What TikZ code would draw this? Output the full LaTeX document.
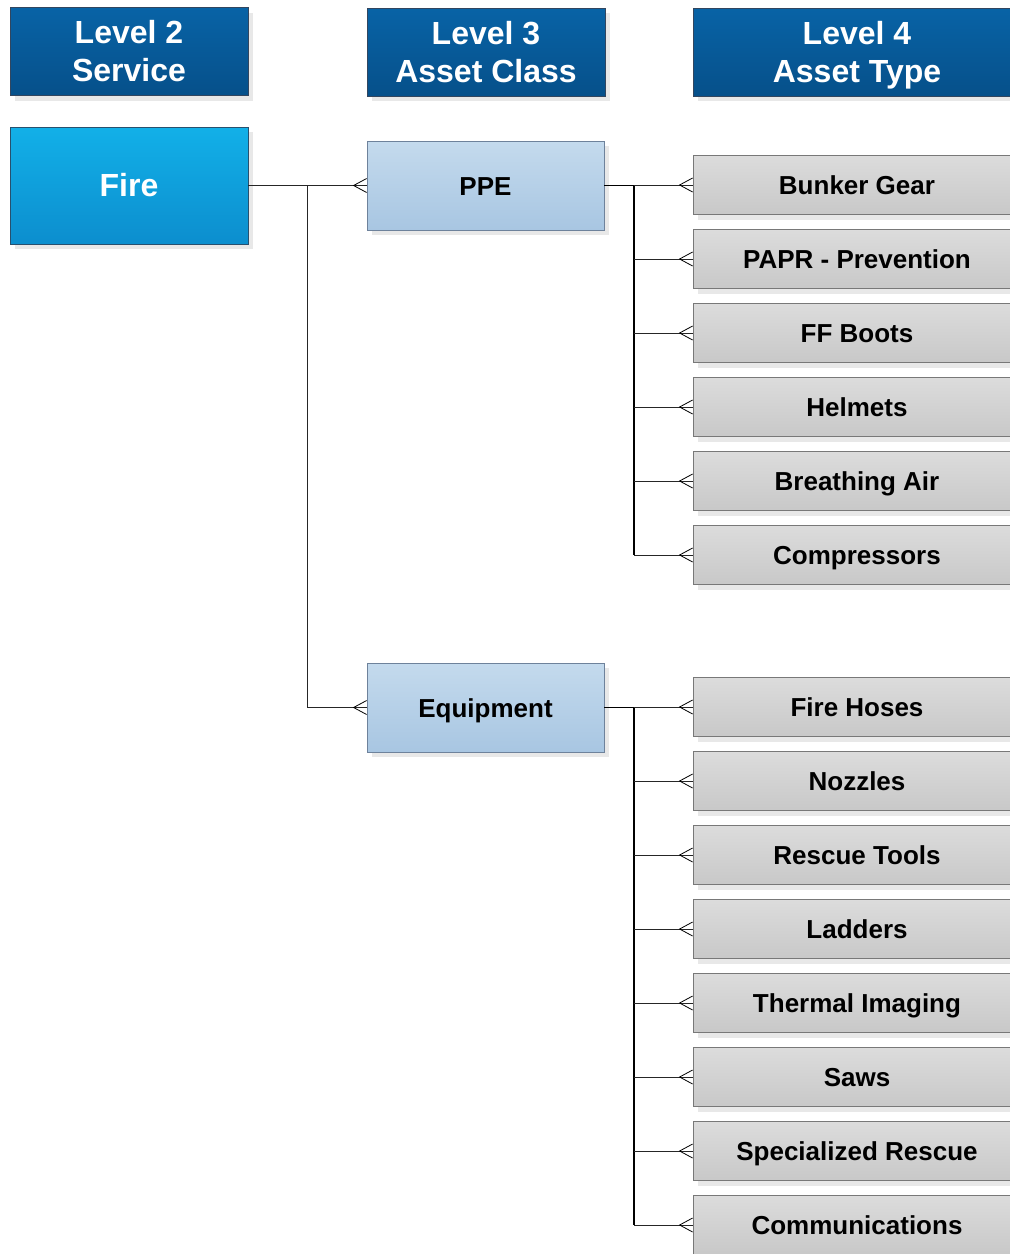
\documentclass[tikz,border=0pt]{standalone}
\usepackage{fontspec}
\setmainfont{Liberation Sans}
\usetikzlibrary{shadows}
\definecolor{hdrtop}{RGB}{8,99,166}
\definecolor{hdrbot}{RGB}{6,80,138}
\definecolor{hdrline}{RGB}{50,70,95}
\definecolor{firetop}{RGB}{18,176,232}
\definecolor{firebot}{RGB}{12,142,206}
\definecolor{fireline}{RGB}{40,80,110}
\definecolor{clstop}{RGB}{196,218,237}
\definecolor{clsbot}{RGB}{168,198,226}
\definecolor{clsline}{RGB}{110,130,155}
\definecolor{typtop}{RGB}{220,220,220}
\definecolor{typbot}{RGB}{200,200,200}
\definecolor{typline}{RGB}{120,120,120}
\definecolor{shadowgray}{RGB}{232,232,232}
\tikzset{
  shad/.style={drop shadow={shadow xshift=5pt,shadow yshift=-5pt,fill=shadowgray,opacity=1}},
  hdr/.style={shad,draw=hdrline,line width=0.8pt,top color=hdrtop,bottom color=hdrbot,
    text=white,font=\bfseries\fontsize{32}{38}\selectfont,align=center,
    minimum height=88pt,inner sep=0pt},
  firebox/.style={shad,draw=fireline,line width=0.8pt,top color=firetop,bottom color=firebot,
    text=white,font=\bfseries\fontsize{32}{38}\selectfont,minimum width=238pt,minimum height=117pt,inner sep=0pt},
  clsbox/.style={shad,draw=clsline,line width=0.8pt,top color=clstop,bottom color=clsbot,
    text=black,font=\bfseries\fontsize{26}{31}\selectfont,minimum width=237pt,minimum height=89pt,inner sep=0pt,
    text height=19pt,text depth=0pt},
  typbox/.style={shad,draw=typline,line width=0.8pt,top color=typtop,bottom color=typbot,
    text=black,font=\bfseries\fontsize{26}{31}\selectfont,minimum width=328pt,minimum height=59pt,inner sep=0pt,
    text height=19pt,text depth=0pt},
  conn/.style={line width=0.8pt,draw=black!85},
  trunk/.style={line width=1.3pt,draw=black},
}
\begin{document}
\begin{tikzpicture}[x=1pt,y=-1pt]
\useasboundingbox (0,0) rectangle (1010,1254);
\clip (0,0) rectangle (1010,1254);
\fill[white] (0,0) rectangle (1010,1254);
% headers
\node[hdr,minimum width=238pt] (h2) at (129,51.5) {Level 2\\Service};
\node[hdr,minimum width=238pt] (h3) at (486,52) {Level 3\\Asset Class};
\node[hdr,minimum width=328pt] (h4) at (857,52) {Level 4\\Asset \smash{Type}};
% level 2 and 3
\node[firebox] (fire) at (129,185.5) {Fire};
\node[clsbox] (ppe) at (485.5,185.5) {PPE};
\node[clsbox] (equip) at (485.5,707.5) {Equipment};
% level 4
\foreach \n/\y/\t in {p1/185/Bunker Gear,p2/259/PAPR - Prevention,p3/333/FF Boots,p4/407/Helmets,p5/481/Breathing Air,p6/555/Compressors,
  e1/707/Fire Hoses,e2/781/Nozzles,e3/855/Rescue Tools,e4/929/Ladders,e5/1003/Thermal Imaging,e6/1077/Saws,e7/1151/Specialized Rescue,e8/1225/Communications}
  \node[typbox] (\n) at (857,\y) {\t};
% trunk coordinates
\coordinate (t1) at (307,185.5);
\coordinate (t2) at (634,185.5);
\coordinate (t3) at (634,707.5);
% fire -> classes
\draw[conn] (fire.east) -- (ppe.west);
\draw[conn] (t1) |- (equip.west);
% classes -> types
\draw[trunk] (ppe.east) -- (t2) -- (t2 |- p6.west);
\draw[trunk] (equip.east) -- (t3) -- (t3 |- e8.west);
\foreach \n in {p1,p2,p3,p4,p5,p6}
  \draw[conn] (t2 |- \n.west) -- (\n.west);
\foreach \n in {e1,e2,e3,e4,e5,e6,e7,e8}
  \draw[conn] (t3 |- \n.west) -- (\n.west);
% crow's feet
\foreach \n in {ppe,equip,p1,p2,p3,p4,p5,p6,e1,e2,e3,e4,e5,e6,e7,e8}
  \draw[line width=0.8pt,black] ([yshift=7pt]\n.west) -- ([xshift=-13pt]\n.west) -- ([yshift=-7pt]\n.west);
\end{tikzpicture}
\end{document}
